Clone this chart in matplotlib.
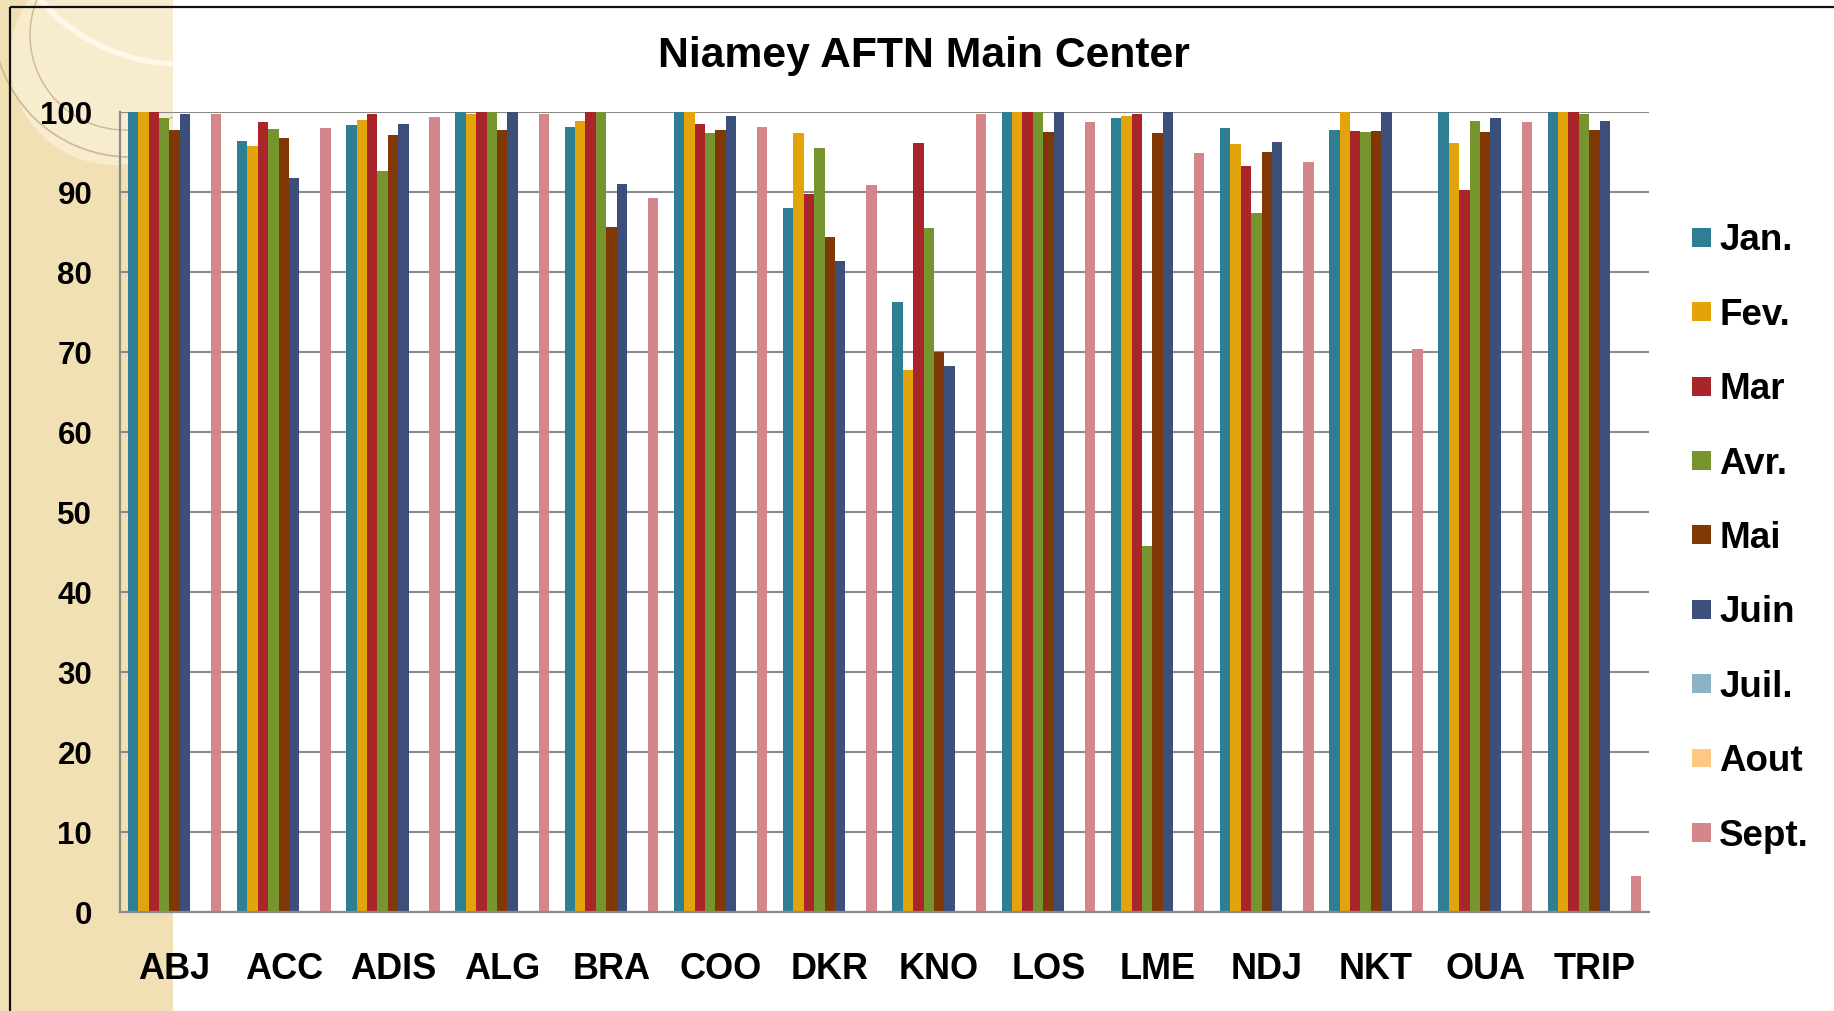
import matplotlib
matplotlib.use('Agg')
import matplotlib.pyplot as plt
import numpy as np
from matplotlib.patches import Rectangle, Circle

categories = ['ABJ', 'ACC', 'ADIS', 'ALG', 'BRA', 'COO', 'DKR', 'KNO',
              'LOS', 'LME', 'NDJ', 'NKT', 'OUA', 'TRIP']
months = ['Jan.', 'Fev.', 'Mar', 'Avr.', 'Mai', 'Juin', 'Juil.', 'Aout', 'Sept.']

jan = [100, 96.4, 98.4, 100, 98.1, 100, 88.0, 76.2, 100, 99.2, 98.0, 97.8, 100, 100]
fev = [100, 95.7, 99.0, 99.8, 98.9, 100, 97.4, 67.7, 100, 99.5, 96.0, 100, 96.1, 100]
mar = [100, 98.8, 99.7, 100, 100, 98.5, 89.7, 96.1, 100, 99.7, 93.2, 97.6, 90.2, 100]
avr = [99.3, 97.9, 92.6, 100, 100, 97.4, 95.5, 85.5, 100, 45.7, 87.4, 97.5, 98.9, 99.8]
mai = [97.8, 96.8, 97.1, 97.7, 85.6, 97.7, 84.4, 70.0, 97.5, 97.4, 95.0, 97.6, 97.5, 97.8]
juin = [99.8, 91.7, 98.5, 100, 91.0, 99.5, 81.4, 68.2, 100, 100, 96.3, 100, 99.3, 98.9]
juil = [0, 0, 0, 0, 0, 0, 0, 0, 0, 0, 0, 0, 0, 0]
aout = [0, 0, 0, 0, 0, 0, 0, 0, 0, 0, 0, 0, 0, 0]
sept = [99.7, 98.0, 99.4, 99.8, 89.3, 98.1, 90.9, 99.8, 98.7, 94.9, 93.7, 70.4, 98.7, 4.5]

series = [jan, fev, mar, avr, mai, juin, juil, aout, sept]
colors = ['#2E7F93', '#E2A40A', '#AA2529', '#76952F', '#7F3806',
          '#3C4F7B', '#8BB3C3', '#FCC884', '#D4868A']

FONT = 'Liberation Sans'
W, H = 1834, 1011
fig = plt.figure(figsize=(W / 100, H / 100), dpi=100)

# decorative background (pixel coordinates)
bg = fig.add_axes([0, 0, 1, 1], zorder=0)
bg.set_xlim(0, W)
bg.set_ylim(H, 0)
bg.axis('off')
panel = Rectangle((0, 0), 173, H, fc='#F2E0B5', ec='none')
bg.add_patch(panel)
glow = Circle((115, 60), 105, fc='#FAF0D6', ec='none', alpha=0.8)
bg.add_patch(glow)
glow.set_clip_path(panel)
for c in [Circle((130, 20), 137, fill=False, ec='#CBB995', lw=1.2),
          Circle((125, 35), 95, fill=False, ec='#CBB995', lw=1.0),
          Circle((180, -120), 184, fill=False, ec='#FFF8E8', lw=4)]:
    bg.add_patch(c)
    c.set_clip_path(panel)
bg.plot([10, 10], [7, H], color='#111111', lw=1.6, solid_capstyle='butt')
bg.plot([10, W], [7, 7], color='#111111', lw=1.6, solid_capstyle='butt')

# main chart
l, r, t, b = 120, 1649, 112, 912
ax = fig.add_axes([l / W, 1 - b / H, (r - l) / W, (b - t) / H], zorder=1)
ax.patch.set_alpha(0)

x = np.arange(len(categories))
w = 1 / 10.5
for i, (vals, col, lab) in enumerate(zip(series, colors, months)):
    ax.bar(x + (i - 4) * w, vals, w, color=col, label=lab, linewidth=0, zorder=2)

ax.set_xlim(-0.5, len(categories) - 0.5)
ax.set_ylim(0, 100)
ax.set_yticks(np.arange(0, 101, 10))
ax.yaxis.grid(True, color='#8A8A8A', lw=1.5)
ax.set_axisbelow(True)
for s in ['top', 'right']:
    ax.spines[s].set_visible(False)
for s in ['left', 'bottom']:
    ax.spines[s].set_color('#8A8A8A')
    ax.spines[s].set_linewidth(1.6)
ax.set_xticks(x)
ax.set_xticklabels(categories)
ax.tick_params(axis='y', length=0, pad=20)
ax.tick_params(axis='x', length=0, pad=29)
for lab in ax.get_yticklabels():
    lab.set_fontfamily(FONT)
    lab.set_fontweight('bold')
    lab.set_fontsize(22.5)
for lab in ax.get_xticklabels():
    lab.set_fontfamily(FONT)
    lab.set_fontweight('bold')
    lab.set_fontsize(26)

fig.text(924 / W, 1 - 56.5 / H, 'Niamey AFTN Main Center', ha='center', va='center',
         fontfamily=FONT, fontweight='bold', fontsize=30.7)

leg = fig.legend(loc='center left', bbox_to_anchor=(1692 / W, 1 - 538.5 / H),
                 bbox_transform=fig.transFigure, frameon=False, borderpad=0,
                 borderaxespad=0, handlelength=0.52, handleheight=0.41,
                 handletextpad=0.22, labelspacing=1.07,
                 prop={'family': FONT, 'weight': 'bold', 'size': 26.5})

fig.savefig('out.png', dpi=100)
